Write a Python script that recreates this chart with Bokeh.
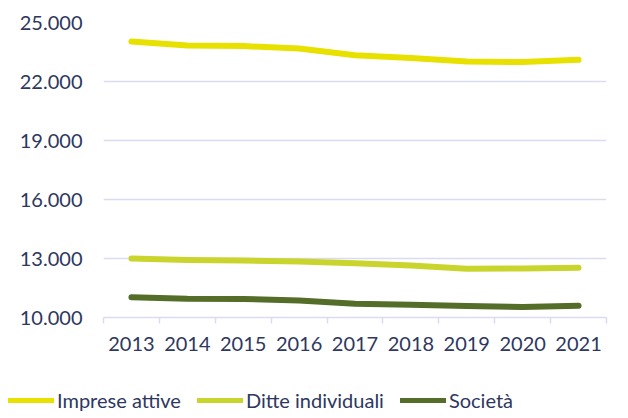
from bokeh.plotting import figure
from bokeh.models import FixedTicker, Legend, LegendItem, Range1d
from bokeh.layouts import column
from bokeh.embed import file_html
from bokeh.resources import INLINE

years = ["2013", "2014", "2015", "2016", "2017", "2018", "2019", "2020", "2021"]
imprese_attive = [24030, 23830, 23800, 23680, 23340, 23200, 23020, 22990, 23100]
ditte_individuali = [13000, 12920, 12900, 12850, 12760, 12640, 12480, 12490, 12530]
societa = [11030, 10950, 10940, 10860, 10700, 10650, 10580, 10540, 10600]
series_names = ["Imprese attive", "Ditte individuali", "Società"]
y_ticks = [10000, 13000, 16000, 19000, 22000, 25000]
y_tick_labels = ["10.000", "13.000", "16.000", "19.000", "22.000", "25.000"]

colors = ["#E8E100", "#C9D52D", "#546D29"]
text_color = "#2E3760"
grid_color = "#D9DBF1"
FONT = "Lato"

x = [i + 0.5 for i in range(len(years))]

p = figure(width=620, height=362, output_backend="svg", toolbar_location=None,
           x_range=Range1d(0, len(years)), y_range=Range1d(10000, 25000),
           min_border_left=103, min_border_right=14, min_border_top=22, min_border_bottom=45)
p.frame_align = False
p.outline_line_color = None
p.background_fill_color = "white"
p.border_fill_color = "white"

for vals, c in zip([imprese_attive, ditte_individuali, societa], colors):
    p.line(x, vals, line_color=c, line_width=6, line_cap="round", line_join="round")

# y axis
p.yaxis.ticker = FixedTicker(ticks=y_ticks)
p.yaxis.major_label_overrides = {t: l for t, l in zip(y_ticks, y_tick_labels)}
p.yaxis.axis_line_color = None
p.yaxis.major_tick_line_color = None
p.yaxis.minor_tick_line_color = None
p.yaxis.major_tick_out = 0
p.yaxis.major_label_standoff = 21
p.yaxis.major_label_text_font = FONT
p.yaxis.major_label_text_font_size = "20px"
p.yaxis.major_label_text_color = text_color

# x axis
p.xaxis.ticker = FixedTicker(ticks=x, minor_ticks=list(range(len(years) + 1)))
p.xaxis.major_label_overrides = {xx: y for xx, y in zip(x, years)}
p.xaxis.axis_line_color = grid_color
p.xaxis.axis_line_width = 1.5
p.xaxis.major_tick_line_color = None
p.xaxis.minor_tick_line_color = grid_color
p.xaxis.minor_tick_line_width = 1.5
p.xaxis.minor_tick_in = 0
p.xaxis.minor_tick_out = 6
p.xaxis.major_tick_out = 0
p.xaxis.major_tick_in = 0
p.xaxis.major_label_standoff = 13
p.xaxis.major_label_text_font = FONT
p.xaxis.major_label_text_font_size = "20px"
p.xaxis.major_label_text_color = text_color

p.xgrid.grid_line_color = None
p.ygrid.grid_line_color = grid_color
p.ygrid.grid_line_width = 1.5
p.ygrid.ticker = FixedTicker(ticks=y_ticks)

# legend strip
lg = figure(width=620, height=50, output_backend="svg", toolbar_location=None,
            x_axis_location=None, y_axis_location=None,
            x_range=Range1d(0, 1), y_range=Range1d(0, 1),
            min_border_left=0, min_border_right=0, min_border_top=0, min_border_bottom=0)
lg.frame_align = False
lg.outline_line_color = None
lg.xgrid.visible = False
lg.ygrid.visible = False
swatches = [lg.line([-10, -10], [-10, -10], line_color=c, line_width=5, line_cap="round")
            for c in colors]
legend = Legend(items=[LegendItem(label=n, renderers=[r]) for n, r in zip(series_names, swatches)],
                orientation="horizontal", location=(8, 0),
                glyph_width=46, glyph_height=20, label_height=20, label_standoff=3,
                spacing=16, padding=0, margin=0,
                border_line_color=None, background_fill_alpha=0,
                label_text_font=FONT, label_text_font_size="20px",
                label_text_color=text_color)
lg.add_layout(legend, "center")

layout = column(p, lg, spacing=0)
open("out.html", "w").write(file_html(layout, INLINE))
